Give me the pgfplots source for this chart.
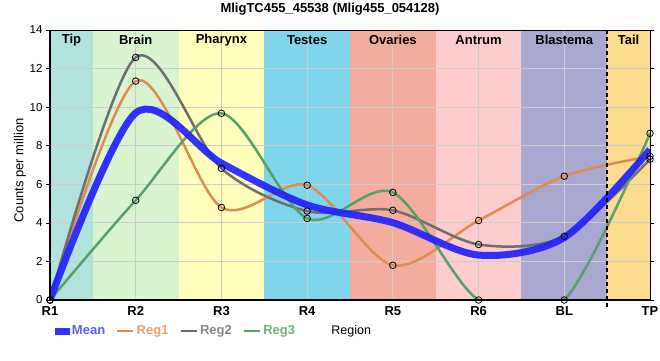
\documentclass[border=0pt]{standalone}
\usepackage{pgfplots}
\pgfplotsset{compat=1.18}
\usepackage{fontspec}
\setmainfont{Liberation Sans}
\definecolor{cTip}{HTML}{B3E2DD}
\definecolor{cBrain}{HTML}{D8F5D0}
\definecolor{cPhar}{HTML}{FFFFBB}
\definecolor{cTest}{HTML}{7FD5EB}
\definecolor{cOva}{HTML}{F4AC9E}
\definecolor{cAntr}{HTML}{FDCCCC}
\definecolor{cBlas}{HTML}{A8A8D0}
\definecolor{cTail}{HTML}{FDDC90}
\definecolor{gridc}{HTML}{CCCCCC}
\definecolor{meanc}{HTML}{2222FF}
\definecolor{meanl}{HTML}{5C5CFF}
\definecolor{reg1}{HTML}{E08C50}
\definecolor{reg1l}{HTML}{F0A070}
\definecolor{reg2}{HTML}{6E6E6E}
\definecolor{reg2l}{HTML}{858585}
\definecolor{reg3}{HTML}{58A068}
\definecolor{reg3l}{HTML}{70B080}
\begin{document}
\begin{tikzpicture}
\begin{axis}[
  at={(50pt,60pt)}, anchor=south west,
  width=600pt, height=270pt, scale only axis,
  xmin=0, xmax=7, ymin=0, ymax=14,
  set layers, clip mode=individual,
  xtick={0,...,7}, xticklabels={R1,R2,R3,R4,R5,R6,BL,TP},
  ytick={0,2,...,14},
  grid=major, major grid style={draw=gridc, line width=0.8pt},
  tick align=outside, xtick style={draw=none},
  ytick style={black, line width=0.6pt}, major tick length=4pt,
  x tick label style={font=\bfseries\fontsize{13}{15}\selectfont, yshift=1pt},
  y tick label style={font=\fontsize{11.5}{13}\selectfont},
  /pgf/number format/assume math mode=true,
  axis line style={black, line width=0.8pt},
  title={MligTC455\_45538 (Mlig455\_054128)},
  title style={font=\bfseries\fontsize{13}{15}\selectfont, at={(axis description cs:0.4667,1.0556)}, anchor=center},
  xlabel={Region},
  xlabel style={font=\fontsize{12.5}{15}\selectfont, at={(axis description cs:0.502,-0.115)}, anchor=center},
  ylabel={Counts per million},
  ylabel style={font=\fontsize{13}{15}\selectfont, at={(axis description cs:-0.05,0.48)}, anchor=center},
  legend columns=4,
  legend style={draw=none, fill=none, at={(axis description cs:0.008,-0.115)}, anchor=west,
    font=\bfseries\fontsize{13}{15}\selectfont,
    /tikz/every even column/.append style={column sep=9pt},
    inner sep=0pt},
]
% region bands
\addplot[on layer=axis background, fill=cTip, draw=none, forget plot] coordinates {(0,14)(0.5,14)} \closedcycle;
\addplot[on layer=axis background, fill=cBrain, draw=none, forget plot] coordinates {(0.5,14)(1.5,14)} \closedcycle;
\addplot[on layer=axis background, fill=cPhar, draw=none, forget plot] coordinates {(1.5,14)(2.5,14)} \closedcycle;
\addplot[on layer=axis background, fill=cTest, draw=none, forget plot] coordinates {(2.5,14)(3.5,14)} \closedcycle;
\addplot[on layer=axis background, fill=cOva, draw=none, forget plot] coordinates {(3.5,14)(4.5,14)} \closedcycle;
\addplot[on layer=axis background, fill=cAntr, draw=none, forget plot] coordinates {(4.5,14)(5.5,14)} \closedcycle;
\addplot[on layer=axis background, fill=cBlas, draw=none, forget plot] coordinates {(5.5,14)(6.5,14)} \closedcycle;
\addplot[on layer=axis background, fill=cTail, draw=none, forget plot] coordinates {(6.5,14)(7,14)} \closedcycle;
% region lines
\addplot[reg1, line width=2.5pt, smooth, tension=0.5, no markers, forget plot] coordinates {(0,0)(1,11.35)(2,4.8)(3,5.95)(4,1.8)(5,4.12)(6,6.42)(7,7.45)};
\addplot[reg2, line width=2.5pt, smooth, tension=0.5, no markers, forget plot] coordinates {(0,0)(1,12.58)(2,6.83)(3,4.61)(4,4.65)(5,2.88)(6,3.3)(7,7.3)};
\addplot[reg3, line width=2.5pt, smooth, tension=0.5, no markers, forget plot] coordinates {(0,0)(1,5.17)(2,9.68)(3,4.23)(4,5.58)(5,0)(6,0)(7,8.64)};
% mean
\addplot[meanc, opacity=0.92, line width=7pt, smooth, tension=0.5, no markers,
  legend image code/.code={\path[fill=meanc, draw=none, line width=0pt] (0pt,-3.5pt) rectangle (15pt,3.5pt);}]
  coordinates {(0,0)(1,9.70)(2,7.10)(3,4.93)(4,4.01)(5,2.33)(6,3.24)(7,7.80)};
\addlegendentry{\textcolor{meanl}{Mean}}
% markers
\addplot[only marks, mark=o, mark size=3.3pt, mark options={draw=black, line width=0.8pt, fill=white, fill opacity=0.4},
  legend image code/.code={\draw[reg1, line width=2.5pt] (0pt,0pt) -- (16pt,0pt);}]
  coordinates {(0,0)(1,11.35)(2,4.8)(3,5.95)(4,1.8)(5,4.12)(6,6.42)(7,7.45)};
\addlegendentry{\textcolor{reg1l}{Reg1}}
\addplot[only marks, mark=o, mark size=3.3pt, mark options={draw=black, line width=0.8pt, fill=white, fill opacity=0.4},
  legend image code/.code={\draw[reg2, line width=2.5pt] (0pt,0pt) -- (16pt,0pt);}]
  coordinates {(0,0)(1,12.58)(2,6.83)(3,4.61)(4,4.65)(5,2.88)(6,3.3)(7,7.3)};
\addlegendentry{\textcolor{reg2l}{Reg2}}
\addplot[only marks, mark=o, mark size=3.3pt, mark options={draw=black, line width=0.8pt, fill=white, fill opacity=0.4},
  legend image code/.code={\draw[reg3, line width=2.5pt] (0pt,0pt) -- (16pt,0pt);}]
  coordinates {(0,0)(1,5.17)(2,9.68)(3,4.23)(4,5.58)(5,0)(6,0)(7,8.64)};
\addlegendentry{\textcolor{reg3l}{Reg3}}
% dashed separator
\draw[black, line width=1.8pt, dash pattern=on 4pt off 3pt] (axis cs:6.5,-0.35) -- (axis cs:6.5,14);
% thick left/bottom axis
\draw[black, line width=2pt] (rel axis cs:0,1) -- (rel axis cs:0,0) -- (rel axis cs:1,0);
% band labels
\begin{scope}[every node/.style={font=\bfseries\fontsize{13}{15}\selectfont, anchor=center}]
\node at (axis cs:0.25,13.5) {Tip};
\node at (axis cs:1,13.5) {Brain};
\node at (axis cs:2,13.5) {Pharynx};
\node at (axis cs:3,13.5) {Testes};
\node at (axis cs:4,13.5) {Ovaries};
\node at (axis cs:5,13.5) {Antrum};
\node at (axis cs:6,13.5) {Blastema};
\node at (axis cs:6.75,13.5) {Tail};
\end{scope}
\end{axis}
\pgfresetboundingbox
\path[use as bounding box] (0,0) rectangle (660pt,360pt);
\end{tikzpicture}
\end{document}
